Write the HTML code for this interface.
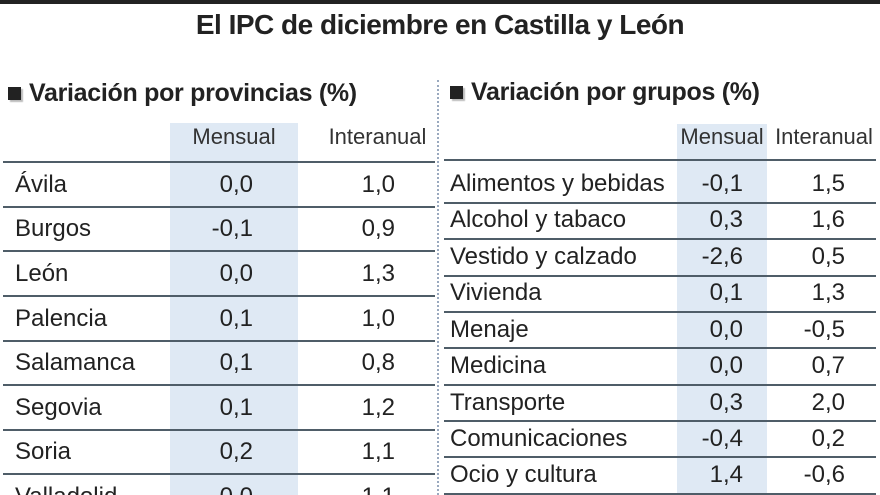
<!DOCTYPE html>
<html><head><meta charset="utf-8">
<style>
html,body{margin:0;width:880px;height:495px;overflow:hidden}
body{background:#fff;position:relative;font-family:"Liberation Sans",sans-serif;color:#222}
div{position:absolute;white-space:nowrap}
.l{height:2px;background:#4f5d68}
.t{font-size:24px;line-height:24px;transform:translateY(-50%)}
.r{text-align:right}
.h{font-size:22px;line-height:22px;color:#333}
.sec{font-weight:bold;font-size:25px;letter-spacing:-0.3px}
.sq{width:13px;height:13px;background:#222;box-shadow:2px 2px 1px #bbb}
</style></head><body>
<div style="left:0;top:0;width:880px;height:4px;background:#222"></div>
<div style="left:0;top:9px;width:880px;text-align:center;font-weight:bold;font-size:28px;letter-spacing:-0.5px;line-height:32px">El IPC de diciembre en Castilla y León</div>

<div class="sq" style="left:8px;top:87px"></div>
<div class="sec" style="left:29px;top:79px">Variación por provincias (%)</div>
<div class="sq" style="left:450px;top:86px"></div>
<div class="sec" style="left:471px;top:78px">Variación por grupos (%)</div>

<div style="left:437px;top:80px;width:0;height:415px;border-left:2px dotted #9aa9bf"></div>

<div style="left:170px;top:123px;width:128px;height:372px;background:#dfe9f4"></div>
<div style="left:677px;top:124px;width:90px;height:371px;background:#dfe9f4"></div>

<div class="h" style="left:170px;top:126px;width:128px;text-align:center">Mensual</div>
<div class="h" style="left:320px;top:126px;width:115px;text-align:center">Interanual</div>
<div class="h" style="left:677px;top:126px;width:90px;text-align:center">Mensual</div>
<div class="h" style="left:768px;top:126px;width:112px;text-align:center">Interanual</div>

<div class="l" style="left:3px;top:161px;width:432px"></div>
<div class="l" style="left:3px;top:206px;width:432px"></div>
<div class="l" style="left:3px;top:250px;width:432px"></div>
<div class="l" style="left:3px;top:295px;width:432px"></div>
<div class="l" style="left:3px;top:340px;width:432px"></div>
<div class="l" style="left:3px;top:384px;width:432px"></div>
<div class="l" style="left:3px;top:429px;width:432px"></div>
<div class="l" style="left:3px;top:473px;width:432px"></div>

<div class="l" style="left:444px;top:159px;width:432px"></div>
<div class="l" style="left:444px;top:202px;width:432px"></div>
<div class="l" style="left:444px;top:238px;width:432px"></div>
<div class="l" style="left:444px;top:275px;width:432px"></div>
<div class="l" style="left:444px;top:311px;width:432px"></div>
<div class="l" style="left:444px;top:347px;width:432px"></div>
<div class="l" style="left:444px;top:384px;width:432px"></div>
<div class="l" style="left:444px;top:420px;width:432px"></div>
<div class="l" style="left:444px;top:456px;width:432px"></div>
<div class="l" style="left:444px;top:493px;width:432px"></div>

<div class="t" style="left:15px;top:185px">Ávila</div><div class="t r" style="right:627px;top:185px">0,0</div><div class="t r" style="right:485px;top:185px">1,0</div>
<div class="t" style="left:15px;top:229px">Burgos</div><div class="t r" style="right:627px;top:229px">-0,1</div><div class="t r" style="right:485px;top:229px">0,9</div>
<div class="t" style="left:15px;top:274px">León</div><div class="t r" style="right:627px;top:274px">0,0</div><div class="t r" style="right:485px;top:274px">1,3</div>
<div class="t" style="left:15px;top:319px">Palencia</div><div class="t r" style="right:627px;top:319px">0,1</div><div class="t r" style="right:485px;top:319px">1,0</div>
<div class="t" style="left:15px;top:363px">Salamanca</div><div class="t r" style="right:627px;top:363px">0,1</div><div class="t r" style="right:485px;top:363px">0,8</div>
<div class="t" style="left:15px;top:408px">Segovia</div><div class="t r" style="right:627px;top:408px">0,1</div><div class="t r" style="right:485px;top:408px">1,2</div>
<div class="t" style="left:15px;top:452px">Soria</div><div class="t r" style="right:627px;top:452px">0,2</div><div class="t r" style="right:485px;top:452px">1,1</div>
<div class="t" style="left:15px;top:497px">Valladolid</div><div class="t r" style="right:627px;top:497px">0,0</div><div class="t r" style="right:485px;top:497px">1,1</div>

<div class="t" style="left:450px;top:184px">Alimentos y bebidas</div><div class="t r" style="right:137px;top:184px">-0,1</div><div class="t r" style="right:35px;top:184px">1,5</div>
<div class="t" style="left:450px;top:220px">Alcohol y tabaco</div><div class="t r" style="right:137px;top:220px">0,3</div><div class="t r" style="right:35px;top:220px">1,6</div>
<div class="t" style="left:450px;top:257px">Vestido y calzado</div><div class="t r" style="right:137px;top:257px">-2,6</div><div class="t r" style="right:35px;top:257px">0,5</div>
<div class="t" style="left:450px;top:293px">Vivienda</div><div class="t r" style="right:137px;top:293px">0,1</div><div class="t r" style="right:35px;top:293px">1,3</div>
<div class="t" style="left:450px;top:330px">Menaje</div><div class="t r" style="right:137px;top:330px">0,0</div><div class="t r" style="right:35px;top:330px">-0,5</div>
<div class="t" style="left:450px;top:366px">Medicina</div><div class="t r" style="right:137px;top:366px">0,0</div><div class="t r" style="right:35px;top:366px">0,7</div>
<div class="t" style="left:450px;top:403px">Transporte</div><div class="t r" style="right:137px;top:403px">0,3</div><div class="t r" style="right:35px;top:403px">2,0</div>
<div class="t" style="left:450px;top:439px">Comunicaciones</div><div class="t r" style="right:137px;top:439px">-0,4</div><div class="t r" style="right:35px;top:439px">0,2</div>
<div class="t" style="left:450px;top:475px">Ocio y cultura</div><div class="t r" style="right:137px;top:475px">1,4</div><div class="t r" style="right:35px;top:475px">-0,6</div>
</body></html>
